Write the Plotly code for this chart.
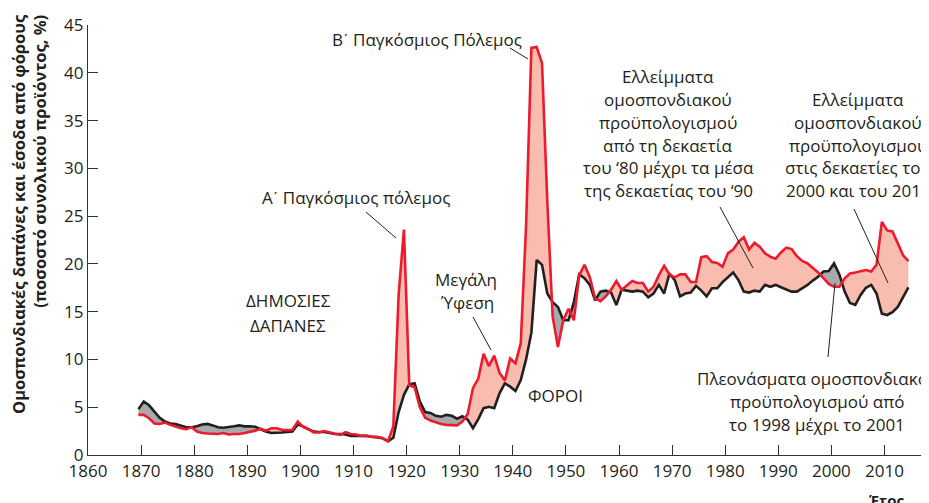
import plotly.graph_objects as go

# ---------------- data ----------------
years = list(range(1869, 2015))

spending = [
    4.2, 4.2, 3.85, 3.3, 3.25, 3.4, 3.15, 2.95, 2.8, 2.7,          # 1869-1878
    2.9, 2.45, 2.3, 2.25, 2.2, 2.2, 2.3, 2.15, 2.2, 2.2,           # 1879-1888
    2.3, 2.4, 2.55, 2.75, 2.55, 2.8, 2.8, 2.65, 2.6, 2.65,         # 1889-1898
    3.5, 2.95, 2.7, 2.35, 2.35, 2.5, 2.35, 2.2, 2.1, 2.4,          # 1899-1908
    2.2, 2.15, 2.0, 2.0, 1.9, 1.9, 1.75, 1.45, 3.0, 16.8,          # 1909-1918
    23.6, 7.3, 7.1, 5.0, 3.9, 3.6, 3.4, 3.25, 3.15, 3.1,           # 1919-1928
    3.1, 3.5, 4.3, 7.0, 8.0, 10.6, 9.3, 10.4, 8.6, 7.8,            # 1929-1938
    10.1, 9.6, 11.7, 24.0, 42.6, 42.7, 41.0, 26.5, 14.5, 11.3,     # 1939-1948
    14.1, 15.3, 14.1, 18.8, 19.9, 18.6, 16.4, 16.1, 16.6, 17.3,    # 1949-1958
    18.2, 17.3, 17.8, 18.2, 18.0, 18.0, 17.1, 17.6, 18.8, 19.8,    # 1959-1968
    18.9, 18.6, 18.9, 18.9, 18.1, 18.1, 20.7, 20.8, 20.2, 20.1,    # 1969-1978
    19.7, 21.1, 21.5, 22.3, 22.8, 21.5, 22.2, 21.8, 21.1, 20.75,   # 1979-1988
    20.55, 21.2, 21.7, 21.55, 20.8, 20.3, 20.05, 19.6, 19.1, 18.5, # 1989-1998
    17.9, 17.6, 17.6, 18.5, 19.0, 19.1, 19.25, 19.35, 19.2, 19.9,  # 1999-2008
    24.4, 23.5, 23.4, 22.15, 20.9, 20.3,                           # 2009-2014
]

taxes = [
    4.8, 5.6, 5.2, 4.6, 3.9, 3.5, 3.3, 3.25, 3.1, 2.9,             # 1869-1878
    2.9, 3.0, 3.2, 3.25, 3.1, 2.9, 2.85, 2.9, 3.0, 3.1,            # 1879-1888
    3.0, 3.0, 2.95, 2.7, 2.45, 2.3, 2.3, 2.35, 2.4, 2.45,          # 1889-1898
    3.2, 3.0, 2.7, 2.45, 2.4, 2.4, 2.3, 2.2, 2.2, 2.15,            # 1899-1908
    2.0, 2.0, 2.0, 2.0, 1.9, 1.85, 1.75, 1.45, 1.8, 4.5,           # 1909-1918
    6.3, 7.4, 7.5, 5.6, 4.5, 4.4, 4.1, 4.0, 4.2, 4.1,              # 1919-1928
    3.8, 4.05, 3.7, 2.8, 3.75, 4.9, 5.05, 4.9, 6.45, 7.5,          # 1929-1938
    7.15, 6.7, 7.85, 10.0, 12.8, 20.4, 19.9, 16.9, 16.0, 15.5,     # 1939-1948
    14.1, 14.1, 16.0, 18.9, 18.5, 17.8, 16.2, 17.1, 17.2, 17.0,    # 1949-1958
    15.7, 17.3, 17.2, 17.1, 17.2, 17.1, 16.5, 16.9, 17.8, 16.9,    # 1959-1968
    19.0, 18.3, 16.6, 16.9, 17.0, 17.7, 17.2, 16.6, 17.45, 17.45,  # 1969-1978
    18.1, 18.6, 19.1, 18.3, 17.1, 17.0, 17.2, 17.1, 17.8, 17.6,    # 1979-1988
    17.8, 17.55, 17.3, 17.1, 17.1, 17.45, 17.8, 18.25, 18.65, 19.2,# 1989-1998
    19.25, 20.05, 18.9, 17.1, 15.9, 15.7, 16.75, 17.5, 17.8, 16.9, # 1999-2008
    14.8, 14.65, 14.95, 15.5, 16.6, 17.55,                         # 2009-2014
]

x_ticks = list(range(1860, 2011, 10))
y_ticks = list(range(0, 46, 5))

# ---------------- styling ----------------
RED = "#ec1c2e"
BLACK = "#231f20"
PINK = "#f8bdae"
GREY = "#a7a9ac"
TXT = "#231f20"
FONT = "Open Sans"

# the page body adds an 8px offset; the figure is sized so the plot lands
# on the same screen pixels as the reference
OFF = 8
SCREEN_W, SCREEN_H = 929, 503
W, H = SCREEN_W - OFF, SCREEN_H - OFF
PLOT_L, PLOT_R, PLOT_T, PLOT_B = 88, 929, 25, 455     # screen pixels
PW, PH = PLOT_R - PLOT_L, PLOT_B - PLOT_T
PX_PER_YEAR = 5.31

# fiscal-year midpoint
xs = [y + 0.5 for y in years]

# ---------------- fill regions ----------------
def build_regions(x, r, b):
    d = [ri - bi for ri, bi in zip(r, b)]
    sgn = lambda v: 1 if v >= 0 else -1
    regions = []
    cs = sgn(d[0])
    cx, cr, cb = [x[0]], [r[0]], [b[0]]
    for i in range(1, len(x)):
        s = sgn(d[i])
        if s != cs:
            t = d[i - 1] / (d[i - 1] - d[i])
            xc = x[i - 1] + t * (x[i] - x[i - 1])
            yc = r[i - 1] + t * (r[i] - r[i - 1])
            cx.append(xc); cr.append(yc); cb.append(yc)
            regions.append((cs, cx, cr, cb))
            cx, cr, cb = [xc], [yc], [yc]
            cs = s
        cx.append(x[i]); cr.append(r[i]); cb.append(b[i])
    regions.append((cs, cx, cr, cb))
    out = {1: ([], []), -1: ([], [])}
    for s, rx, rr, rb in regions:
        px_, py_ = out[s]
        px_.extend(rx + rx[::-1] + [None])
        py_.extend(rr + rb[::-1] + [None])
    return out

regs = build_regions(xs, spending, taxes)

fig = go.Figure()
fig.add_trace(go.Scatter(x=regs[1][0], y=regs[1][1], mode="lines", fill="toself",
                         fillcolor=PINK, line=dict(width=0), hoverinfo="skip",
                         showlegend=False))
fig.add_trace(go.Scatter(x=regs[-1][0], y=regs[-1][1], mode="lines", fill="toself",
                         fillcolor=GREY, line=dict(width=0), hoverinfo="skip",
                         showlegend=False))
fig.add_trace(go.Scatter(x=xs, y=taxes, mode="lines", name="Φόροι",
                         line=dict(color=BLACK, width=2.6), showlegend=False))
fig.add_trace(go.Scatter(x=xs, y=spending, mode="lines", name="Δημόσιες δαπάνες",
                         line=dict(color=RED, width=2.6), showlegend=False))

# ---------------- helpers for pixel placement ----------------
def px(xp):
    return (xp - PLOT_L) / PW

def py(yp):
    return (PLOT_B - yp) / PH

annotations = []

def text(s, x, y, size=17, bold=False, xanchor="center"):
    annotations.append(dict(
        text=f"<b>{s}</b>" if bold else s, x=px(x), y=py(y), xref="paper", yref="paper",
        xanchor=xanchor, yanchor="middle", showarrow=False,
        font=dict(family=FONT, size=size, color=TXT)))

shapes = []

def leader(x0, y0, x1, y1):
    shapes.append(dict(type="line", xref="paper", yref="paper",
                       x0=px(x0), y0=py(y0), x1=px(x1), y1=py(y1),
                       line=dict(color=TXT, width=1)))

NUM = "\u0374"  # Greek numeral sign

text(f"Β{NUM} Παγκόσμιος Πόλεμος", 427, 40)
leader(510, 48, 528, 59)

text(f"Α{NUM} Παγκόσμιος πόλεμος", 356, 198)
leader(366, 212, 396, 238)

text("ΔΗΜΟΣΙΕΣ", 288, 300)
text("ΔΑΠΑΝΕΣ", 288, 325)

text("Μεγάλη", 466, 279)
text("Ύφεση", 467, 302)
leader(473, 317, 491, 350)

text("ΦΟΡΟΙ", 555, 395)

for i, s in enumerate(["Ελλείμματα", "ομοσπονδιακού", "προϋπολογισμού",
                       "από τη δεκαετία", "του ‘80 μέχρι τα μέσα",
                       "της δεκαετίας του ‘90"]):
    text(s, 668, 76 + i * 23)
leader(720, 207, 753, 268)

for i, s in enumerate(["Ελλείμματα", "ομοσπονδιακού", "προϋπολογισμού",
                       "στις δεκαετίες του", "2000 και του 2010"]):
    text(s, 858, 99 + i * 23)
leader(854, 209, 888, 283)

for i, s in enumerate(["Πλεονάσματα ομοσπονδιακού", "προϋπολογισμού από",
                       "το 1998 μέχρι το 2001"]):
    text(s, 817, 378 + i * 23)
leader(835, 283, 828, 357)

# y-axis title (two lines, end-aligned)
annotations.append(dict(
    text="<b>Ομοσπονδιακές δαπάνες και έσοδα από φόρους</b><br>"
         "<b>(ποσοστό συνολικού προϊόντος, %)</b>",
    x=px(29), y=py(214), xref="paper", yref="paper", textangle=-90,
    xanchor="center", yanchor="middle", align="right", showarrow=False,
    font=dict(family=FONT, size=16.5, color=TXT)))

# x-axis title
text("Έτος", 886, 500, size=15, bold=True)

x_end = 1860 + PW / PX_PER_YEAR

fig.update_layout(
    width=W, height=H,
    margin=dict(l=PLOT_L - OFF, r=SCREEN_W - PLOT_R, t=PLOT_T - OFF,
                b=SCREEN_H - PLOT_B, pad=0),
    paper_bgcolor="white", plot_bgcolor="white",
    font=dict(family=FONT, size=17, color=TXT),
    annotations=annotations, shapes=shapes,
    xaxis=dict(range=[1860, x_end], tickvals=x_ticks,
               ticktext=[str(v) for v in x_ticks],
               showgrid=False, zeroline=False, showline=True,
               linecolor="#333333", linewidth=1.2,
               ticks="inside", ticklen=10, tickwidth=1, tickcolor="#333333",
               tickfont=dict(family=FONT, size=17, color=TXT)),
    yaxis=dict(range=[0, 45], tickvals=y_ticks,
               ticktext=[str(v) for v in y_ticks],
               showgrid=False, zeroline=False, showline=True,
               linecolor="#333333", linewidth=1.2,
               ticks="inside", ticklen=10, tickwidth=1, tickcolor="#333333",
               tickfont=dict(family=FONT, size=17, color=TXT)),
)

fig.write_html("out.html")
